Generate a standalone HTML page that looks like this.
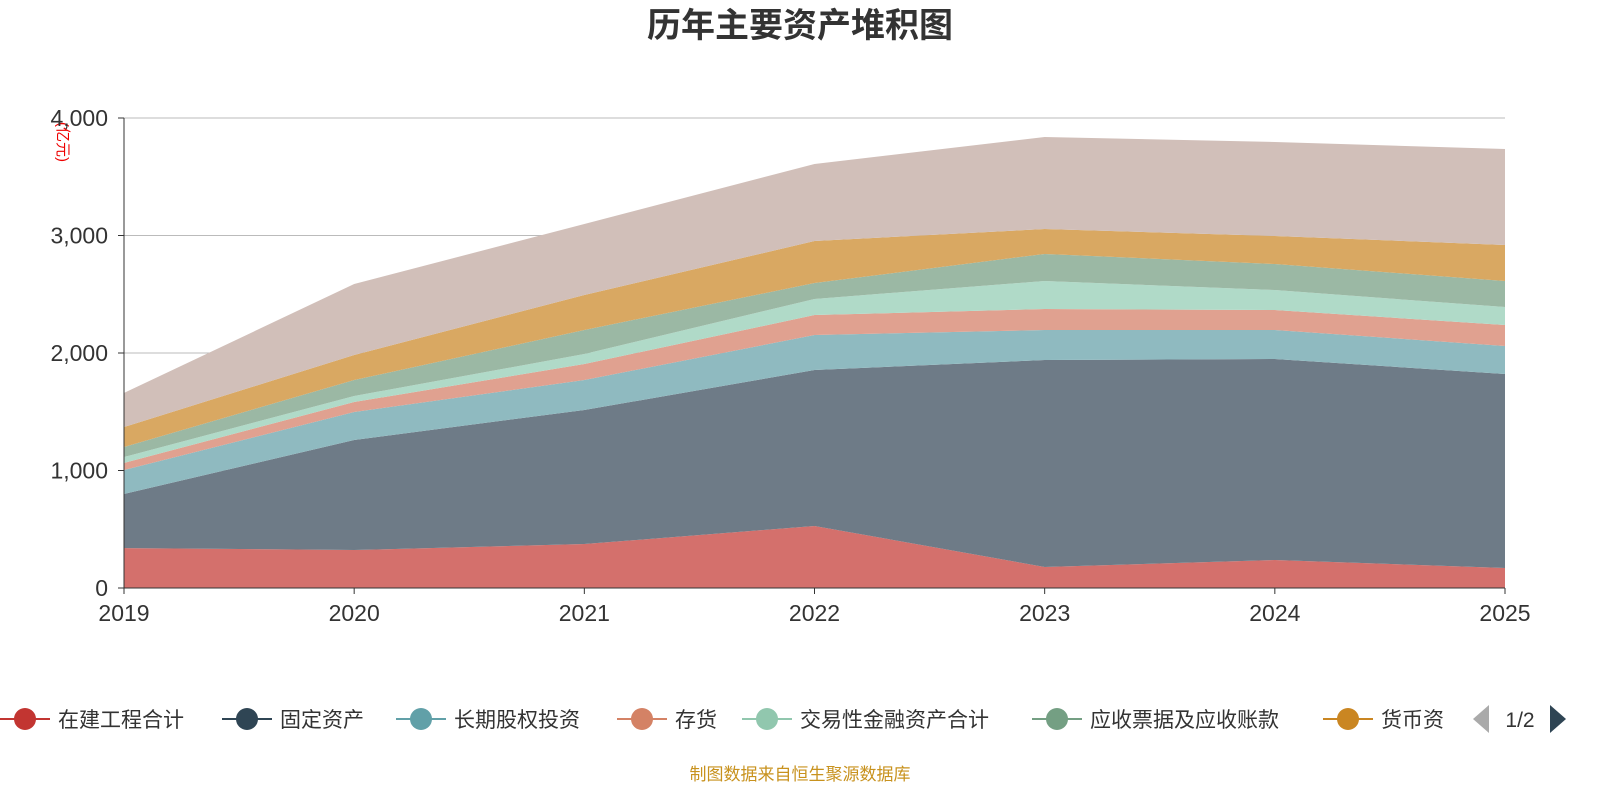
<!DOCTYPE html>
<html><head><meta charset="utf-8"><style>
body{margin:0;background:#fff;width:1600px;height:800px;overflow:hidden;font-family:"Liberation Sans","Noto Sans CJK SC",sans-serif}
</style></head><body>
<svg id="chart" width="1600" height="800" xmlns="http://www.w3.org/2000/svg" font-family="Liberation Sans, Noto Sans CJK SC, sans-serif">
<text x="800" y="37" text-anchor="middle" font-size="34" font-weight="bold" fill="#333">历年主要资产堆积图</text>
<text x="0" y="0" transform="translate(58,142) rotate(90)" text-anchor="middle" font-size="15" fill="#e00">(亿元)</text>
<g id="grid"></g><g id="areas"></g><g id="axes"></g>
<g id="legend"></g>
<text x="800" y="780" text-anchor="middle" font-size="17" fill="#c8921e">制图数据来自恒生聚源数据库</text>
</svg>
<script>
const years=["2019","2020","2021","2022","2023","2024","2025"];
const seriesNames=["在建工程合计","固定资产","长期股权投资","存货","交易性金融资产合计","应收票据及应收账款","货币资金","其他"];
const s0=[340,323,374,528,179,238,170];
const s1=[460,937,1141,1327,1761,1711,1651];
const s2=[204,238,255,298,256,247,239];
const s3=[60,85,136,170,178,170,178];
const s4=[51,51,85,137,239,170,153];
const s5=[85,136,205,136,230,221,222];
const s6=[170,213,298,357,212,239,306];
const s7=[290,604,604,656,783,800,817];
const yTicks=[0,1000,2000,3000,4000];
const yTickLabels=["0","1,000","2,000","3,000","4,000"];
const series=[s0,s1,s2,s3,s4,s5,s6,s7];
const fills=["#d4706c","#6e7b87","#8fbac0","#e0a190","#b0dac8","#9bb8a4","#d9a862","#d1bfb9"];
const lineCols=["#c23531","#2f4554","#61a0a8","#d48265","#91c7ae","#749f83","#ca8622"];
const NS="http://www.w3.org/2000/svg";
const X=i=>124+i*(1505-124)/(years.length-1);
const Y=v=>588-v*(588-118)/4000;
function mk(t,a,p){const e=document.createElementNS(NS,t);for(const k in a)e.setAttribute(k,a[k]);document.getElementById(p).appendChild(e);return e;}
yTicks.forEach((v,i)=>{
 if(v>0){const l=mk("line",{x1:124,x2:1505,y1:Y(v),y2:Y(v),stroke:"#bbb","stroke-width":1},"grid");
 
 }
 const t=mk("text",{x:108,y:Y(v)+8,"text-anchor":"end","font-size":23,fill:"#333"},"axes");t.textContent=yTickLabels[i];
 
 
 const tk=mk("line",{x1:118,x2:124,y1:Y(v),y2:Y(v),stroke:"#333"},"axes");
 
 
});
let base=years.map(()=>0);
series.forEach((s,k)=>{
 const top=base.map((b,i)=>b+s[i]);
 let d="M"+top.map((v,i)=>X(i)+","+Y(v)).join("L");
 for(let i=years.length-1;i>=0;i--)d+="L"+X(i)+","+Y(base[i]);
 const p=mk("path",{d:d+"Z",fill:fills[k]},"areas");
 
 
 base=top;
});
const ax=mk("line",{x1:124,x2:124,y1:118,y2:588,stroke:"#333"},"axes");


const xa=mk("line",{x1:124,x2:1505,y1:588,y2:588,stroke:"#333"},"axes");


years.forEach((y,i)=>{
 const tk=mk("line",{x1:X(i),x2:X(i),y1:588,y2:594,stroke:"#333"},"axes");
 
 
 const t=mk("text",{x:X(i),y:621,"text-anchor":"middle","font-size":23,fill:"#333"},"axes");t.textContent=y;
 
 
});
const legX=[0,222,396,617,742,1032,1323];
for(let k=0;k<7;k++){
 const g=mk("g",{},"legend");
 
 
 const x=legX[k];
 const l=document.createElementNS(NS,"line");l.setAttribute("x1",x);l.setAttribute("x2",x+50);l.setAttribute("y1",719);l.setAttribute("y2",719);l.setAttribute("stroke",lineCols[k]);l.setAttribute("stroke-width",2);g.appendChild(l);
 const c=document.createElementNS(NS,"circle");c.setAttribute("cx",x+25);c.setAttribute("cy",719);c.setAttribute("r",11);c.setAttribute("fill",lineCols[k]);g.appendChild(c);
 const t=document.createElementNS(NS,"text");t.setAttribute("x",x+58);t.setAttribute("y",727);t.setAttribute("font-size",21);t.setAttribute("fill","#333");t.textContent=k==6?"货币资":seriesNames[k];g.appendChild(t);
}
const pv=mk("path",{d:"M1473,719L1489,705L1489,733Z",fill:"#aaa"},"legend");


const pt=mk("text",{x:1520,y:727,"text-anchor":"middle","font-size":21,fill:"#333"},"legend");pt.textContent="1/2";


const nx=mk("path",{d:"M1566,719L1550,705L1550,733Z",fill:"#2f4554"},"legend");


</script>
</body></html>
